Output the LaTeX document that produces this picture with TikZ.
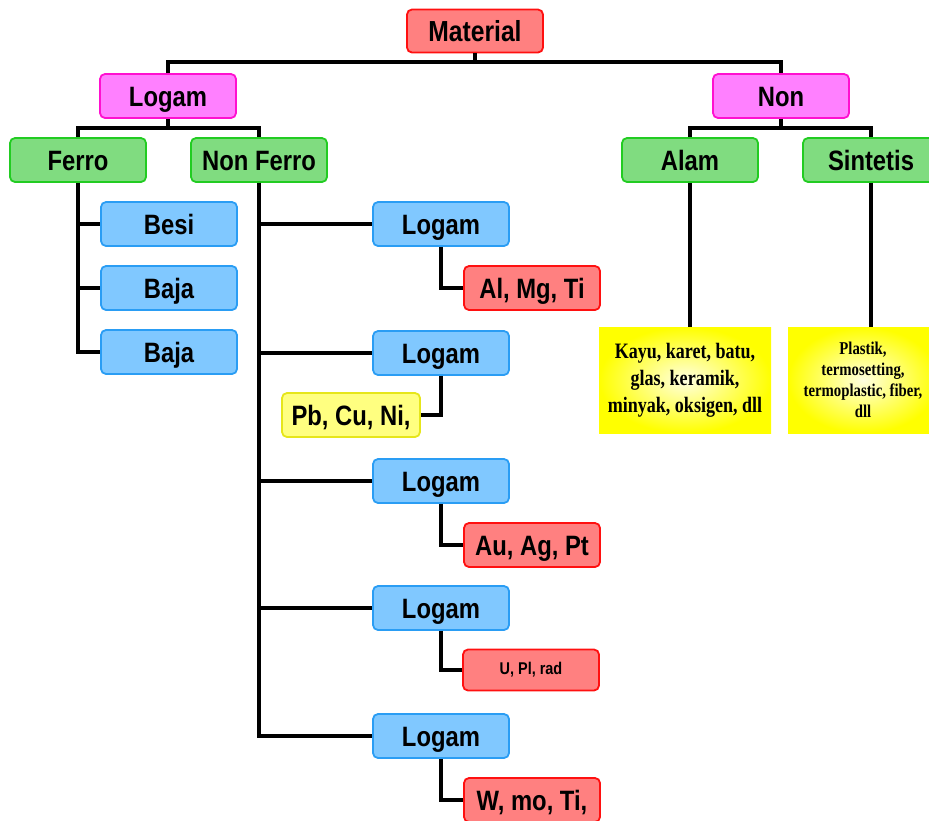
\documentclass[tikz,border=0pt]{standalone}
\usepackage{fontspec}
\newfontfamily\boxfont[FakeStretch=0.85]{Liberation Sans}
\newfontfamily\notefont[FakeStretch=0.82]{Liberation Serif}
\definecolor{redfill}{HTML}{FF8080}
\definecolor{redline}{HTML}{FF1010}
\definecolor{pinkfill}{HTML}{FF80FF}
\definecolor{pinkline}{HTML}{FF10D0}
\definecolor{greenfill}{HTML}{80DC80}
\definecolor{greenline}{HTML}{22CC22}
\definecolor{bluefill}{HTML}{80C8FF}
\definecolor{blueline}{HTML}{2A9DF4}
\definecolor{yellowfill}{HTML}{FFFF80}
\definecolor{yellowline}{HTML}{E6E61A}
\definecolor{notefill}{HTML}{FFFF00}
\tikzset{
    box/.style={draw,rounded corners=5pt,line width=1.8pt,minimum width=136pt,minimum height=44pt,inner sep=0pt,
        text height=21pt,text depth=0pt,font=\boxfont\bfseries\fontsize{28}{32}\selectfont},
    boxred/.style={box,draw=redline,fill=redfill},
    boxpink/.style={box,draw=pinkline,fill=pinkfill},
    boxgreen/.style={box,draw=greenline,fill=greenfill},
    boxblue/.style={box,draw=blueline,fill=bluefill},
    boxyellow/.style={box,draw=yellowline,fill=yellowfill},
    notebox/.style={minimum height=106pt,inner sep=0pt,align=center,shading=radial,
        inner color=notefill!12,outer color=notefill},
    link/.style={black,line width=3.5pt}
}

\begin{document}
\begin{tikzpicture}[x=1pt,y=-1pt]
    \clip (0,0) rectangle (929,820);

    % top levels
    \node[boxred,minimum height=43pt,font=\boxfont\bfseries\fontsize{29}{32}\selectfont] (mat) at (475,31) {Material};
    \node[boxpink] (logam) at (168,96) {Logam};
    \node[boxpink] (non) at (781,96) {Non};
    \node[boxgreen] (ferro) at (78,160) {Ferro};
    \node[boxgreen] (nonferro) at (259,160) {Non Ferro};
    \node[boxgreen] (alam) at (690,160) {Alam};
    \node[boxgreen] (sintetis) at (871,160) {Sintetis};

    % ferro branch
    \node[boxblue] (besi) at (169,224) {Besi};
    \node[boxblue] (baja1) at (169,288) {Baja};
    \node[boxblue] (baja2) at (169,352) {Baja};

    % non ferro branch: logam boxes
    \foreach [count=\i] \y in {224,353,481,608,736} {
        \node[boxblue] (lg\i) at (441,\y) {Logam};
    }
    \node[boxred] (m1) at (532,288) {Al, Mg, Ti};
    \node[boxyellow,minimum width=138pt] (m2) at (351,415) {Pb, Cu, Ni,};
    \node[boxred] (m3) at (532,545) {Au, Ag, Pt};
    \node[boxred,minimum height=41pt,text height=11pt,text depth=2pt,
        font=\boxfont\bfseries\fontsize{17}{20}\selectfont] (m4) at (531,670) {U, Pl, rad};
    \node[boxred] (m5) at (532,800) {W, mo, Ti,};

    % non branch: notes
    \node[notebox,minimum width=172pt,font=\notefont\bfseries\fontsize{22}{27}\selectfont] (kayu) at (685,380)
        {Kayu, karet, batu,\\glas, keramik,\\minyak, oksigen, dll};
    \node[notebox,minimum width=150pt,font=\notefont\bfseries\fontsize{18}{21}\selectfont] (plastik) at (863,380)
        {Plastik,\\termosetting,\\termoplastic, fiber,\\dll};

    % connectors
    \coordinate (topbus) at (475,62);
    \draw[link] (mat.south) -- (topbus);
    \draw[link] (logam.north) |- (topbus) -| (non.north);
    \draw[link] (logam.south) -- ++(0,9) coordinate (lbus);
    \draw[link] (ferro.north) |- (lbus) -| (nonferro.north);
    \draw[link] (non.south) -- ++(0,9) coordinate (nbus);
    \draw[link] (alam.north) |- (nbus) -| (sintetis.north);

    \foreach \b in {besi,baja1,baja2} {\draw[link] (ferro.south) |- (\b.west);}
    \foreach \i in {1,...,5} {\draw[link] (nonferro.south) |- (lg\i.west);}
    \foreach \i in {1,3,4,5} {\draw[link] (lg\i.south) |- (m\i.west);}
    \draw[link] (lg2.south) |- (m2.east);

    \draw[link] (alam.south) -- (alam.south |- kayu.north);
    \draw[link] (sintetis.south) -- (sintetis.south |- plastik.north);

\end{tikzpicture}
\end{document}
